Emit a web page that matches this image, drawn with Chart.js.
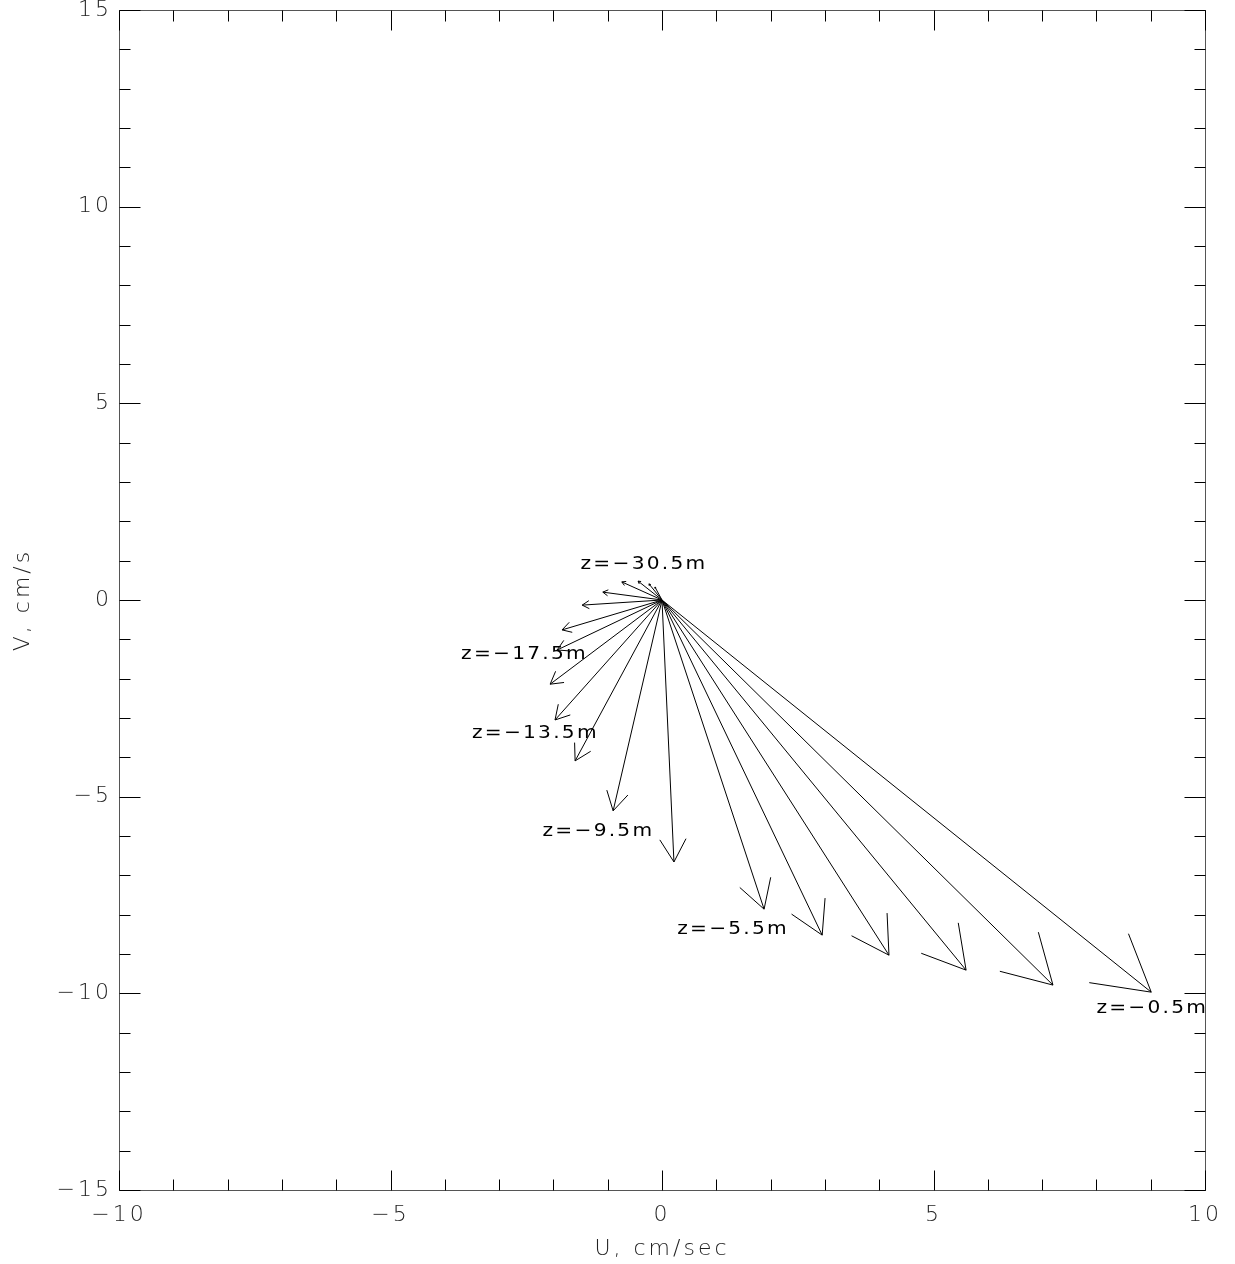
<!DOCTYPE html>
<html>
<head>
<meta charset="utf-8">
<title>Velocity hodograph</title>
<script src="https://cdn.jsdelivr.net/npm/chart.js@4.4.1/dist/chart.umd.min.js"></script>
<style>
  html, body { margin: 0; padding: 0; background: #fff; }
  canvas { display: block; }
</style>
</head>
<body>
<canvas id="hodo" width="1235" height="1264"></canvas>
<script>
// Layer depths (m) and horizontal velocity components (cm/s)
const depths = [-0.5, -1.5, -2.5, -3.5, -4.5, -5.5, -7.5, -9.5, -11.5, -13.5,
                -15.5, -17.5, -19.5, -21.5, -23.5, -25.5, -27.5, -29.5, -30.5];
const uVel = [9.01, 7.20, 5.60, 4.18, 2.95, 1.88, 0.22, -0.90, -1.60, -1.97,
              -2.06, -1.93, -1.84, -1.47, -1.09, -0.74, -0.44, -0.24, -0.13];
const vVel = [-9.97, -9.79, -9.41, -9.03, -8.52, -7.86, -6.66, -5.36, -4.09, -3.05,
              -2.14, -1.27, -0.76, -0.13, 0.20, 0.46, 0.48, 0.41, 0.33];

// Depth annotations and their anchor points in (U, V) units
const labelDepths = [-0.5, -5.5, -9.5, -13.5, -17.5, -30.5];
const labelU = [8.0, 0.28, -2.2, -3.5, -3.7, -1.5];
const labelV = [-10.5, -8.5, -6.0, -3.5, -1.5, 0.8];

// Axis ranges
const xRange = [-10, 10];
const yRange = [-15, 15];

const fmt = v => {
  const n = Math.round(v);
  return n < 0 ? '\u2212' + Math.abs(n) : String(n);
};

const axisFont = { family: 'DejaVu Sans', size: 22, weight: '200' };

// One two-point line per layer: from the origin to the velocity vector
const datasets = depths.map((d, i) => ({
  label: 'z=' + d + 'm',
  data: [{ x: 0, y: 0 }, { x: uVel[i], y: vVel[i] }],
  showLine: true,
  borderColor: '#000',
  borderWidth: 1,
  pointRadius: 0,
  fill: false
}));

const hodographPlugin = {
  id: 'hodograph',
  beforeDraw(chart) {
    chart.ctx.letterSpacing = '3px';
  },
  afterDatasetsDraw(chart) {
    const ctx = chart.ctx;
    ctx.save();
    ctx.strokeStyle = '#000';
    ctx.lineWidth = 1;
    // arrowheads: two barbs at 30 degrees, one tenth of the shaft length
    chart.data.datasets.forEach((ds, i) => {
      const pts = chart.getDatasetMeta(i).data;
      const x0 = pts[0].x, y0 = pts[0].y, x1 = pts[1].x, y1 = pts[1].y;
      const len = Math.hypot(x1 - x0, y1 - y0);
      const h = 0.1 * len;
      const ang = Math.atan2(y1 - y0, x1 - x0);
      ctx.beginPath();
      [-1, 1].forEach(s => {
        const t = ang + Math.PI + s * Math.PI / 6;
        ctx.moveTo(x1 + h * Math.cos(t), y1 + h * Math.sin(t));
        ctx.lineTo(x1, y1);
      });
      ctx.stroke();
    });
    ctx.restore();
  },
  afterDraw(chart) {
    const ctx = chart.ctx;
    const xs = chart.scales.x, ys = chart.scales.y;
    const L = Math.round(xs.getPixelForValue(xRange[0])) + 0.5;
    const R = Math.round(xs.getPixelForValue(xRange[1])) + 0.5;
    const T = Math.round(ys.getPixelForValue(yRange[1])) + 0.5;
    const B = Math.round(ys.getPixelForValue(yRange[0])) + 0.5;
    ctx.save();
    // plot frame
    ctx.strokeStyle = '#555';
    ctx.lineWidth = 1;
    ctx.strokeRect(L, T, R - L, B - T);
    // inward tick marks on all four sides
    ctx.strokeStyle = '#000';
    ctx.beginPath();
    for (let v = xRange[0]; v <= xRange[1]; v++) {
      const px = Math.round(xs.getPixelForValue(v)) + 0.5;
      const l = v % 5 === 0 ? 20 : 11;
      ctx.moveTo(px, B); ctx.lineTo(px, B - l);
      ctx.moveTo(px, T); ctx.lineTo(px, T + l);
    }
    for (let v = yRange[0]; v <= yRange[1]; v++) {
      const py = Math.round(ys.getPixelForValue(v)) + 0.5;
      const l = v % 5 === 0 ? 21 : 11;
      ctx.moveTo(L, py); ctx.lineTo(L + l, py);
      ctx.moveTo(R, py); ctx.lineTo(R - l, py);
    }
    ctx.stroke();
    // depth annotations (slightly widened lettering)
    ctx.fillStyle = '#000';
    ctx.font = '18px "DejaVu Sans"';
    ctx.letterSpacing = '2px';
    ctx.textAlign = 'left';
    ctx.textBaseline = 'alphabetic';
    labelDepths.forEach((d, i) => {
      const txt = 'z=' + d.toFixed(1).replace('-', '\u2212') + 'm';
      const px = xs.getPixelForValue(labelU[i]);
      const py = ys.getPixelForValue(labelV[i]);
      ctx.save();
      ctx.translate(px, py);
      ctx.scale(1.12, 1);
      ctx.fillText(txt, 0, 0);
      ctx.restore();
    });
    ctx.restore();
  }
};

new Chart(document.getElementById('hodo'), {
  type: 'scatter',
  data: { datasets },
  options: {
    responsive: false,
    animation: false,
    devicePixelRatio: 1,
    events: [],
    layout: { padding: { left: 0, top: 10, right: 30, bottom: 0 } },
    plugins: { legend: { display: false }, tooltip: { enabled: false } },
    scales: {
      x: {
        type: 'linear',
        min: xRange[0], max: xRange[1],
        grid: { display: false, drawTicks: false },
        border: { display: false },
        ticks: { stepSize: 5, padding: 12, maxRotation: 0, autoSkip: false,
                 color: '#222', font: axisFont, callback: fmt },
        title: { display: true, text: 'U, cm/sec', color: '#222', font: axisFont,
                 padding: { top: 0, bottom: 2 } },
        afterFit(s) { s.height = 74; s.paddingLeft = 0; s.paddingRight = 0; }
      },
      y: {
        type: 'linear',
        min: yRange[0], max: yRange[1],
        grid: { display: false, drawTicks: false },
        border: { display: false },
        ticks: { stepSize: 5, padding: 7, autoSkip: false,
                 color: '#222', font: axisFont, callback: fmt },
        title: { display: true, text: 'V, cm/s', color: '#222', font: axisFont,
                 padding: { top: 10, bottom: 0 } },
        afterFit(s) { s.width = 119; s.paddingTop = 0; s.paddingBottom = 0; }
      }
    }
  },
  plugins: [hodographPlugin]
});
</script>
</body>
</html>
